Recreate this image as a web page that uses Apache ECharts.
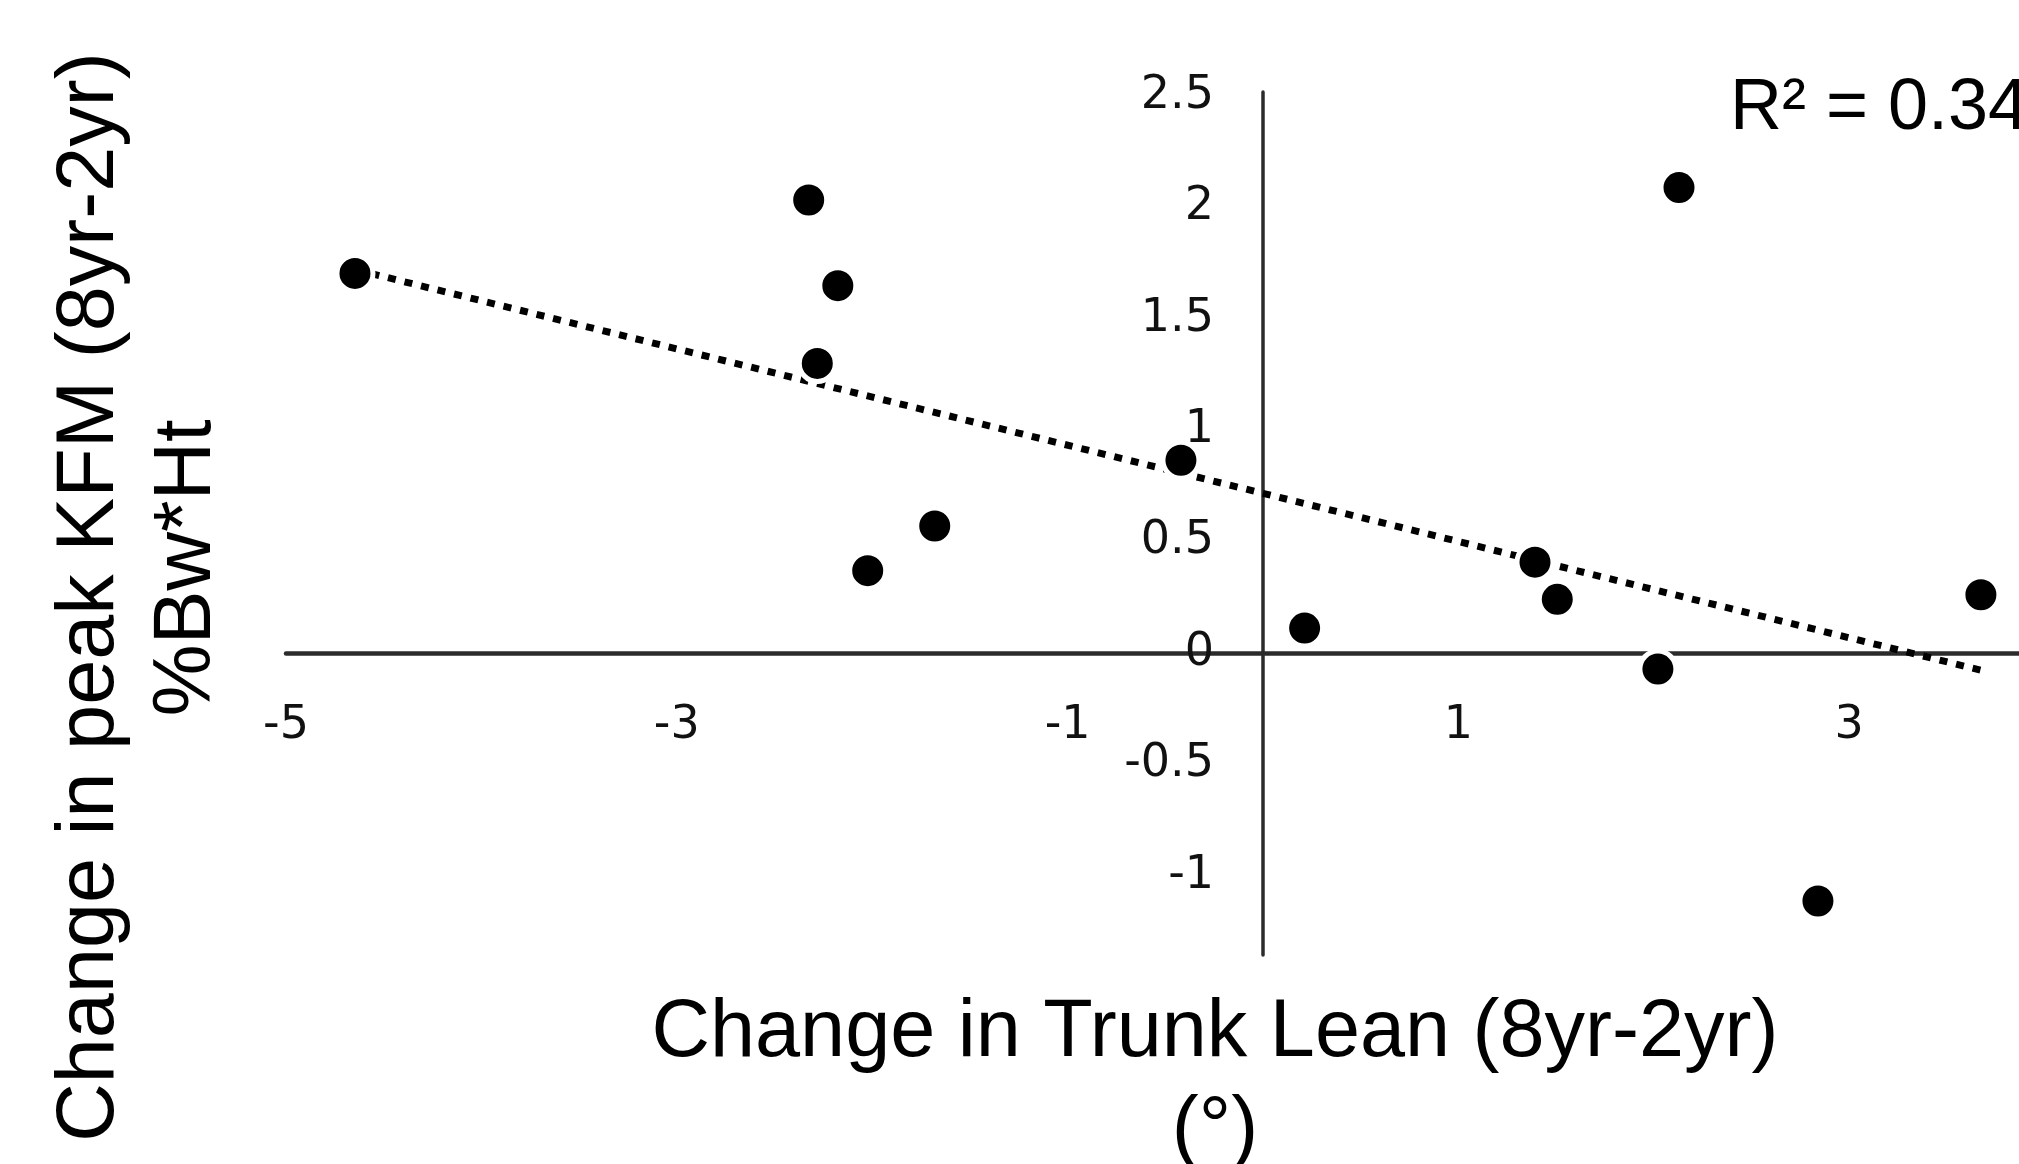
<!DOCTYPE html>
<html>
<head>
<meta charset="utf-8">
<script src="https://cdn.jsdelivr.net/npm/echarts@6/dist/echarts.min.js"></script>
<style>
html,body{margin:0;padding:0;background:#fff;}
#chart{width:2019px;height:1164px;}
</style>
</head>
<body>
<div id="chart"></div>
<script>
// Change in trunk lean (deg) and change in peak KFM (%Bw*Ht)
const trunkLean = [-4.647, -2.325, -2.176, -2.281, -2.023, -1.680, -0.420, 0.213, 1.392, 1.506, 2.021, 2.129, 2.840, 3.674];
const peakKFM   = [ 1.703,  2.032,  1.648,  1.299,  0.369,  0.569,  0.864, 0.111, 0.407, 0.240, -0.073, 2.088, -1.114, 0.261];
// Dotted linear trendline endpoints (x, y)
const trendX = [-4.647, 3.674];
const trendY = [1.720, -0.078];
const xTicks = [-5, -3, -1, 1, 3];
const yTicks = [-1, -0.5, 0, 0.5, 1, 1.5, 2, 2.5];
const xTitle = 'Change in Trunk Lean (8yr-2yr)\n(°)';
const yTitle1 = 'Change in peak KFM (8yr-2yr)';
const yTitle2 = '%Bw*Ht';
const r2Text = 'R² = 0.34';

const points = trunkLean.map((x, i) => [x, peakKFM[i]]);
const trend = trendX.map((x, i) => [x, trendY[i]]);

const X_MIN = -5, X_MAX = 3.869, Y_MIN = -1.356, Y_MAX = 2.517;
const G = {left: 286, right: 0, top: 92, bottom: 209};
const W = 2019, H = 1164;
const gw = W - G.left - G.right, gh = H - G.top - G.bottom;
// move the axes (line + labels) to cross at zero, like the original
const xAxisOffset = -(0 - Y_MIN) / (Y_MAX - Y_MIN) * gh;
const yAxisOffset = -(0 - X_MIN) / (X_MAX - X_MIN) * gw;

const chart = echarts.init(document.getElementById('chart'), null, {renderer: 'canvas'});
const tickFont = {fontFamily: 'DejaVu Sans', fontSize: 46, color: '#111'};
chart.setOption({
  animation: false,
  backgroundColor: '#ffffff',
  grid: {left: G.left, right: G.right, top: G.top, bottom: G.bottom, containLabel: false, outerBoundsMode: 'none'},
  xAxis: {
    type: 'value', min: X_MIN, max: X_MAX, position: 'bottom', offset: xAxisOffset,
    axisLine: {show: true, onZero: false, lineStyle: {color: '#2b2b2b', width: 4.5}},
    axisTick: {show: false},
    splitLine: {show: false},
    axisLabel: Object.assign({margin: 50, customValues: xTicks}, tickFont)
  },
  yAxis: {
    type: 'value', min: Y_MIN, max: Y_MAX, position: 'left', offset: yAxisOffset,
    axisLine: {show: true, onZero: false, lineStyle: {color: '#2b2b2b', width: 3.5}},
    axisTick: {show: false},
    splitLine: {show: false},
    axisLabel: Object.assign({margin: 49, customValues: yTicks}, tickFont)
  },
  series: [
    {
      type: 'line', data: trend, symbol: 'none', z: 3, silent: true,
      lineStyle: {color: '#000', width: 7, type: [8, 9]}
    },
    {
      type: 'scatter', data: points, symbol: 'circle', symbolSize: 36, z: 5,
      itemStyle: {color: '#000', opacity: 1, borderColor: '#fff', borderWidth: 5}
    }
  ],
  graphic: [
    {type: 'text', x: 1215, y: 1082, style: {text: xTitle, fontFamily: 'Liberation Sans', fontSize: 81, lineHeight: 97, fill: '#000', textAlign: 'center', textVerticalAlign: 'middle'}},
    {type: 'text', x: 91, y: 597, rotation: Math.PI / 2, style: {text: yTitle1, fontFamily: 'Liberation Sans', fontSize: 81, fill: '#000', textAlign: 'center', textVerticalAlign: 'middle'}},
    {type: 'text', x: 188, y: 568, rotation: Math.PI / 2, style: {text: yTitle2, fontFamily: 'Liberation Sans', fontSize: 81, fill: '#000', textAlign: 'center', textVerticalAlign: 'middle'}},
    {type: 'text', x: 1730, y: 109, style: {text: r2Text, fontFamily: 'Liberation Sans', fontSize: 72, fill: '#000', textAlign: 'left', textVerticalAlign: 'middle'}}
  ]
});
</script>
</body>
</html>
